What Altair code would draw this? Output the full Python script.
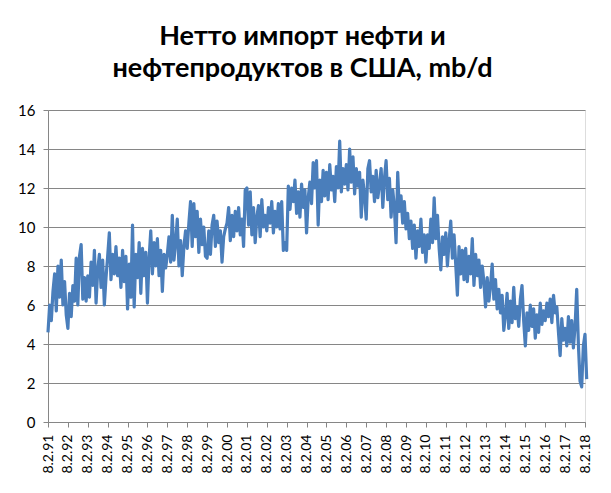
import altair as alt
import pandas as pd

# Monthly readings (approx.) of US net imports of crude & products, mb/d
vals_1991_1999 = [
    4.6, 6.0, 5.2, 6.7, 7.6, 5.7, 8.0, 6.4, 8.3, 6.0, 7.2, 5.5,   # 1991
    4.8, 6.6, 5.4, 7.0, 6.2, 8.4, 6.0, 8.5, 9.1, 6.3, 7.4, 6.2,   # 1992
    7.5, 6.4, 8.2, 7.0, 8.8, 6.1, 7.8, 8.6, 6.9, 8.3, 6.0, 7.4,   # 1993
    8.5, 9.7, 7.3, 8.6, 7.6, 9.0, 7.5, 8.4, 6.9, 8.8, 7.2, 8.5,   # 1994
    5.8, 8.1, 6.4, 10.1, 5.9, 8.6, 7.4, 9.2, 6.6, 8.9, 7.5, 8.7,  # 1995
    6.1, 8.4, 9.8, 7.6, 9.2, 8.0, 9.4, 7.5, 8.8, 6.7, 8.6, 7.9,   # 1996
    8.6, 9.5, 8.2, 10.6, 8.3, 9.2, 10.4, 8.0, 9.3, 7.5, 9.0, 9.8, # 1997
    8.9, 10.2, 11.3, 9.0, 11.2, 9.5, 10.8, 8.7, 10.4, 9.1, 10.0, 8.5,  # 1998
    8.4, 9.8, 8.6, 10.1, 10.6, 9.0, 10.3, 9.2, 9.8, 8.2, 9.5, 9.9,     # 1999
]
vals_2000_2009 = [
    10.2, 11.0, 9.3, 10.6, 9.5, 10.8, 9.8, 11.0, 9.6, 10.4, 9.0, 11.9,   # 2000
    12.0, 10.1, 11.8, 9.6, 11.0, 9.2, 10.5, 11.1, 9.5, 11.4, 10.0, 10.6, # 2001
    9.8, 11.0, 10.2, 11.3, 9.7, 10.8, 10.0, 11.2, 9.9, 11.3, 8.8, 9.2,   # 2002
    8.8, 12.1, 10.9, 12.0, 11.3, 12.4, 10.7, 11.8, 10.5, 12.2, 11.0, 11.9,  # 2003
    9.7, 11.5, 12.3, 11.2, 13.3, 12.0, 13.4, 10.1, 12.4, 11.3, 12.9, 11.6,  # 2004
    12.8, 11.4, 13.2, 11.9, 12.6, 11.3, 13.1, 12.0, 14.4, 11.8, 13.0, 12.2, # 2005
    13.2, 11.9, 14.0, 12.3, 13.6, 11.7, 13.0, 12.1, 12.8, 10.5, 12.4, 11.6, # 2006
    10.4, 13.0, 13.4, 11.8, 12.6, 11.3, 12.9, 11.5, 12.2, 13.0, 11.0, 12.5, # 2007
    13.4, 11.4, 12.5, 10.5, 11.9, 11.0, 9.2, 12.8, 10.8, 11.6, 10.2, 11.3,  # 2008
    9.9, 10.7, 9.4, 10.3, 8.9, 10.1, 8.4, 9.8, 9.0, 10.4, 8.7, 9.6,         # 2009
]
vals_2010_2018 = [
    8.2, 9.6, 8.9, 10.4, 9.2, 11.5, 9.4, 10.6, 8.9, 7.8, 9.5, 8.6,   # 2010
    9.7, 8.0, 9.3, 10.3, 8.4, 9.6, 8.1, 6.5, 9.0, 7.6, 8.8, 7.3,     # 2011
    8.9, 7.2, 8.5, 7.6, 9.4, 7.0, 8.6, 7.5, 8.3, 6.9, 8.0, 7.2,      # 2012
    5.9, 7.4, 6.2, 7.0, 8.1, 6.3, 7.3, 5.8, 6.8, 5.6, 6.5, 4.7,      # 2013
    5.5, 6.6, 4.8, 6.2, 5.1, 6.9, 5.3, 5.9, 4.9, 6.3, 7.0, 5.2,      # 2014
    3.9, 5.6, 4.7, 6.0, 4.9, 5.8, 4.3, 5.5, 4.6, 6.1, 5.0, 5.7,      # 2015
    5.2, 6.1, 5.4, 6.3, 5.1, 6.5, 5.6, 5.9, 4.6, 3.4, 5.3, 4.2,      # 2016
    4.8, 3.9, 5.4, 4.1, 5.2, 3.8, 4.9, 6.8, 4.0, 2.1, 1.8, 3.9,      # 2017
    4.5, 2.2,                                                        # 2018
]

tick_years = list(range(1991, 2019))
y_ticks = list(range(0, 17, 2))

values = vals_1991_1999 + vals_2000_2009 + vals_2010_2018
df = pd.DataFrame({
    "t": [1991 + i / 12 for i in range(len(values))],
    "v": values,
})

grid_col = "#868686"
font = "Lato"

chart = alt.Chart(df).mark_line(
    color="#4A7EBB", strokeWidth=3.2, clip=False, strokeJoin="round"
).encode(
    x=alt.X("t:Q", scale=alt.Scale(domain=[1991, 2018], nice=False, zero=False),
            axis=alt.Axis(values=tick_years, title=None, grid=False,
                          labelExpr="'8.2.' + slice(toString(datum.value), 2)",
                          labelAngle=-90, labelFontSize=14, labelFont=font,
                          labelColor="black", labelPadding=7, tickSize=5,
                          tickColor=grid_col, domainColor=grid_col,
                          labelOverlap=False, labelFlush=False)),
    y=alt.Y("v:Q", scale=alt.Scale(domain=[0, 16], nice=False),
            axis=alt.Axis(values=y_ticks, title=None, grid=True,
                          gridColor=grid_col, gridWidth=1,
                          labelFontSize=15, labelFont=font, labelColor="black",
                          labelPadding=8, tickSize=5, tickColor=grid_col,
                          domainColor=grid_col)),
).properties(
    width=537, height=312,
    autosize=alt.AutoSizeParams(type="none"),
    padding={"left": 40, "top": 102, "right": 18, "bottom": 63},
    title=alt.TitleParams(
        text=["Нетто импорт нефти и", "нефтепродуктов в США, mb/d"],
        font=font, fontSize=27, fontWeight="bold", color="black",
        lineHeight=32, anchor="middle", dx=-14, offset=20,
    ),
).configure_view(stroke="transparent").configure(background="white")

chart.save("out.html", embed_options={"renderer": "svg", "actions": False})
